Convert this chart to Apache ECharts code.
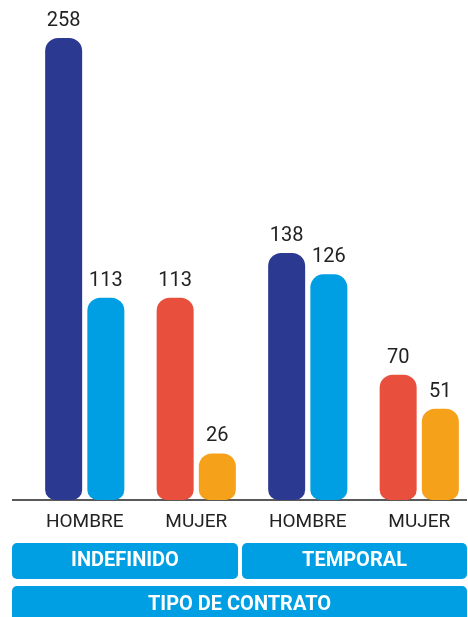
<!DOCTYPE html>
<html>
<head>
<meta charset="utf-8">
<script src="https://cdn.jsdelivr.net/npm/echarts@6/dist/echarts.min.js"></script>
<style>
  html, body { margin: 0; padding: 0; background: #fff; }
  #chart { width: 468px; height: 617px; }
</style>
</head>
<body>
<div id="chart"></div>
<script>
const categories = ['HOMBRE', 'MUJER', 'HOMBRE', 'MUJER']
const firstBar = [258, 113, 138, 70]
const secondBar = [113, 26, 126, 51]
const firstColors = ['#2b3990', '#e8503d', '#2b3990', '#e8503d']
const secondColors = ['#009fe3', '#f6a11a', '#009fe3', '#f6a11a']
const contractTypes = ['INDEFINIDO', 'TEMPORAL']
const axisTitle = 'TIPO DE CONTRATO'

const font = 'Roboto, "Liberation Sans", sans-serif'
const boxBlue = '#009fe3'

const barLabel = {
  show: true,
  position: 'top',
  distance: 7,
  fontFamily: font,
  fontSize: 20,
  color: '#222'
}

const labelBox = (text, x, y, w, h) => ({
  type: 'rect',
  shape: { x: x, y: y, width: w, height: h, r: 5 },
  style: { fill: boxBlue },
  textContent: {
    style: { text: text, fill: '#fff', fontFamily: font, fontSize: 20, fontWeight: 'bold' }
  },
  textConfig: { position: 'inside' }
})

const chart = echarts.init(document.getElementById('chart'))
chart.setOption({
  animation: false,
  grid: { left: 29, width: 446, top: 38, bottom: 117, outerBoundsMode: 'none' },
  xAxis: {
    type: 'category',
    data: categories,
    axisLine: { show: false },
    axisTick: { show: false },
    axisLabel: { interval: 0, fontFamily: font, fontSize: 19, color: '#222', margin: 13 }
  },
  yAxis: {
    type: 'value',
    min: 0,
    max: 258,
    show: false
  },
  series: [
    {
      type: 'bar',
      barWidth: 37,
      barGap: '14%',
      data: firstBar,
      itemStyle: {
        color: (p) => firstColors[p.dataIndex],
        borderRadius: [13, 13, 10, 10]
      },
      label: barLabel
    },
    {
      type: 'bar',
      barWidth: 37,
      data: secondBar,
      itemStyle: {
        color: (p) => secondColors[p.dataIndex],
        borderRadius: [13, 13, 10, 10]
      },
      label: barLabel
    }
  ],
  graphic: [
    {
      type: 'line',
      shape: { x1: 12, y1: 500, x2: 467, y2: 500 },
      style: { stroke: '#222', lineWidth: 1.5 }
    },
    labelBox(contractTypes[0], 12, 543, 226, 36),
    labelBox(contractTypes[1], 242, 543, 225, 36),
    labelBox(axisTitle, 12, 586, 455, 38)
  ]
})
</script>
</body>
</html>
